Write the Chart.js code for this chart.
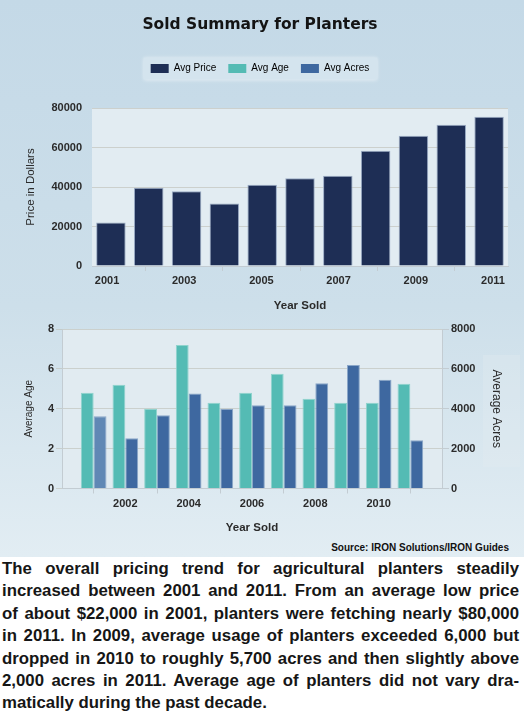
<!DOCTYPE html>
<html>
<head>
<meta charset="utf-8">
<script src="https://cdn.jsdelivr.net/npm/chart.js@4.4.1/dist/chart.umd.min.js"></script>
<style>
  html, body { margin: 0; padding: 0; background: #fff; }
  body { width: 524px; height: 717px; overflow: hidden; }
  #panel { position: relative; width: 524px; height: 557px;
           background: linear-gradient(#c4d9e7, #cddfea 55%, #e2edf3); }
  #top { position: absolute; left: 0; top: 0; }
  #bottom { position: absolute; left: 0; top: 318px; }
  #source { position: absolute; right: 15px; top: 542px;
            font: bold 10px "Liberation Sans Narrow", "Liberation Sans", sans-serif; color: #111; }
  #caption { font: bold 16.8px "Liberation Sans", sans-serif; color: #161616; padding: 1px 5px 0 2px; }
  #caption div { text-align: justify; text-align-last: justify; line-height: 22.4px; height: 22.4px; }
  #caption div.last { text-align-last: left; }
</style>
</head>
<body>
<div id="panel">
  <canvas id="top" width="524" height="318"></canvas>
  <canvas id="bottom" width="524" height="222"></canvas>
  <div id="source">Source: IRON Solutions/IRON Guides</div>
</div>
<div id="caption">
  <div>The overall pricing trend for agricultural planters steadily</div>
  <div>increased between 2001 and 2011. From an average low price</div>
  <div>of about $22,000 in 2001, planters were fetching nearly $80,000</div>
  <div>in 2011. In 2009, average usage of planters exceeded 6,000 but</div>
  <div>dropped in 2010 to roughly 5,700 acres and then slightly above</div>
  <div>2,000 acres in 2011. Average age of planters did not vary dra-</div>
  <div class="last">matically during the past decade.</div>
</div>
<script>
// data
const years = [2001, 2002, 2003, 2004, 2005, 2006, 2007, 2008, 2009, 2010, 2011];
const avgPrice = [22000, 39600, 37800, 31700, 41200, 44400, 45700, 58300, 65900, 71500, 75600];
const avgAge = [4.8, 5.2, 4.0, 7.2, 4.3, 4.8, 5.75, 4.5, 4.3, 4.3, 5.25];
const avgAcres = [3620, 2520, 3670, 4770, 4000, 4170, 4170, 5280, 6200, 5450, 2420];

const priceYearTicks = [2001, 2003, 2005, 2007, 2009, 2011];
const priceTicks = [0, 20000, 40000, 60000, 80000];
const usageYearTicks = [2000, 2002, 2004, 2006, 2008, 2010, 2012];
const ageTicks = [0, 2, 4, 6, 8];
const acresTicks = [0, 2000, 4000, 6000, 8000];
const legendNames = ["Avg Price", "Avg Age", "Avg Acres"];

const navy = "#1e2e55", teal = "#54bbb4", blue = "#3e68a0", blueLight = "#6088b5";
const legendColors = [navy, teal, blue];
const tickFont = { family: "Liberation Sans", size: 11, weight: "bold" };
const gridColor = "rgba(185,185,175,0.55)";
const axisColor = "#c3ccd2";

const setTicks = (arr) => (axis) => { axis.ticks = arr.map(v => ({ value: v })); };

// plot background, legend box, pale box behind the right axis title
const plotBg = {
  id: "plotBg",
  beforeDraw(chart, args, opts) {
    const { ctx, chartArea: a } = chart;
    ctx.save();
    ctx.fillStyle = opts.color;
    ctx.fillRect(a.left, a.top, a.width, a.height);
    if (opts.legendBox && chart.legend && chart.legend.legendHitBoxes.length) {
      const hb = chart.legend.legendHitBoxes;
      const l = Math.min(...hb.map(b => b.left)) - 7;
      const r = Math.max(...hb.map(b => b.left + b.width)) + 8;
      const t = hb[0].top - 6, btm = hb[0].top + hb[0].height + 6;
      ctx.shadowColor = "rgba(255,255,255,0.6)";
      ctx.shadowBlur = 4;
      ctx.fillStyle = opts.legendBox;
      ctx.fillRect(l, t, r - l, btm - t);
    }
    if (opts.titleBox && chart.scales.y1) {
      const s = chart.scales.y1;
      ctx.fillStyle = opts.titleBox;
      ctx.fillRect(s.right - 21, a.top + 26, 37, 112);
    }
    ctx.restore();
  }
};

new Chart("top", {
  type: "bar",
  data: {
    labels: years,
    datasets: [{
      label: legendNames[0],
      data: avgPrice,
      backgroundColor: navy,
      borderColor: "#9aabc4",
      borderWidth: 1,
      categoryPercentage: 0.78,
      barPercentage: 1
    }]
  },
  options: {
    responsive: false,
    animation: false,
    layout: { padding: { left: 12, right: 16, top: 0, bottom: 0 } },
    plugins: {
      plotBg: { color: "#e2ecf2", legendBox: "#d4e4ee" },
      tooltip: { enabled: false },
      title: {
        display: true,
        text: "Sold Summary for Planters",
        color: "#141414",
        font: { family: "DejaVu Sans", size: 15.5, weight: "bold" },
        padding: { top: 15.7, bottom: 17.2 }
      },
      legend: {
        display: true,
        onClick: null,
        labels: {
          boxWidth: 18,
          boxHeight: 9,
          padding: 12,
          color: "#333",
          font: { family: "Liberation Sans", size: 10 },
          generateLabels: () => legendNames.map((t, i) => ({
            text: t, fillStyle: legendColors[i], strokeStyle: legendColors[i],
            lineWidth: 0, hidden: false, datasetIndex: 0
          }))
        }
      }
    },
    scales: {
      // empty band between the legend and the plot
      gap: {
        type: "category",
        position: "top",
        display: true,
        grid: { display: false, drawTicks: false },
        border: { display: false },
        ticks: { display: false },
        afterFit: (axis) => { axis.height = 24.5; }
      },
      x: {
        type: "linear",
        offset: false,
        min: 2000.61,
        max: 2011.39,
        afterBuildTicks: setTicks(priceYearTicks),
        afterFit: (axis) => { axis.height = 52; },
        grid: { drawOnChartArea: false, drawTicks: true, tickLength: 5, color: axisColor },
        border: { display: true, color: axisColor },
        ticks: { color: "#2b2b2b", font: tickFont, padding: 3, callback: v => String(v) },
        title: {
          display: true, text: "Year Sold", color: "#2b2b2b",
          font: { family: "Liberation Sans", size: 11.5, weight: "bold" },
          padding: { top: 11, bottom: 5 }
        }
      },
      y: {
        min: 0,
        max: 80000,
        afterBuildTicks: setTicks(priceTicks),
        afterFit: (axis) => { axis.width = 80; },
        grid: { color: gridColor, drawTicks: false },
        border: { display: false },
        ticks: { color: "#2b2b2b", font: tickFont, padding: 10, callback: v => String(v) },
        title: {
          display: true, text: "Price in Dollars", color: "#2b2b2b",
          font: { family: "Liberation Sans", size: 11.5 },
          padding: { top: 12, bottom: 0 }
        }
      }
    }
  },
  plugins: [plotBg]
});

new Chart("bottom", {
  type: "bar",
  data: {
    labels: years,
    datasets: [
      {
        label: legendNames[1],
        data: avgAge,
        yAxisID: "y",
        backgroundColor: teal,
        borderColor: "#8fd3cd",
        borderWidth: 1,
        categoryPercentage: 0.81,
        barPercentage: 1
      },
      {
        label: legendNames[2],
        data: avgAcres,
        yAxisID: "y1",
        backgroundColor: avgAcres.map((v, i) => i === 0 ? blueLight : blue),
        borderColor: "#8aa6c8",
        borderWidth: 1,
        categoryPercentage: 0.81,
        barPercentage: 1
      }
    ]
  },
  options: {
    responsive: false,
    animation: false,
    layout: { padding: { left: 0, right: 20, top: 11, bottom: 0 } },
    plugins: {
      plotBg: { color: "#e1ebf1", titleBox: "rgba(225,236,242,0.35)" },
      tooltip: { enabled: false },
      legend: { display: false }
    },
    scales: {
      x: {
        type: "linear",
        offset: false,
        min: 2000,
        max: 2012,
        afterBuildTicks: setTicks(usageYearTicks),
        afterFit: (axis) => { axis.height = 51.5; },
        grid: { drawOnChartArea: false, drawTicks: true, tickLength: 5, color: axisColor },
        border: { display: true, color: axisColor },
        ticks: {
          color: "#2b2b2b", font: tickFont, padding: 3.5,
          callback: (v, i, t) => (i === 0 || i === t.length - 1) ? "" : String(v)
        },
        title: {
          display: true, text: "Year Sold", color: "#2b2b2b",
          font: { family: "Liberation Sans", size: 11.5, weight: "bold" },
          padding: { top: 8, bottom: 5 }
        }
      },
      y: {
        position: "left",
        min: 0,
        max: 8,
        afterBuildTicks: setTicks(ageTicks),
        afterFit: (axis) => { axis.width = 62; },
        grid: { color: gridColor, drawTicks: true, tickLength: 6 },
        border: { display: true, color: axisColor },
        ticks: { color: "#2b2b2b", font: tickFont, padding: 2, callback: v => String(v) },
        title: {
          display: true, text: "Average Age", color: "#2b2b2b",
          font: { family: "Liberation Sans", size: 10 },
          padding: { top: 23, bottom: 0 }
        }
      },
      y1: {
        position: "right",
        min: 0,
        max: 8000,
        afterBuildTicks: setTicks(acresTicks),
        afterFit: (axis) => { axis.width = 62; },
        grid: { drawOnChartArea: false, drawTicks: true, tickLength: 7, color: axisColor },
        border: { display: true, color: axisColor },
        ticks: { color: "#2b2b2b", font: tickFont, padding: 2, callback: v => String(v) },
        title: {
          display: true, text: "Average Acres", color: "#2b2b2b",
          font: { family: "Liberation Sans", size: 12 },
          padding: { top: 0, bottom: 0 }
        }
      }
    }
  },
  plugins: [plotBg]
});
</script>
</body>
</html>
